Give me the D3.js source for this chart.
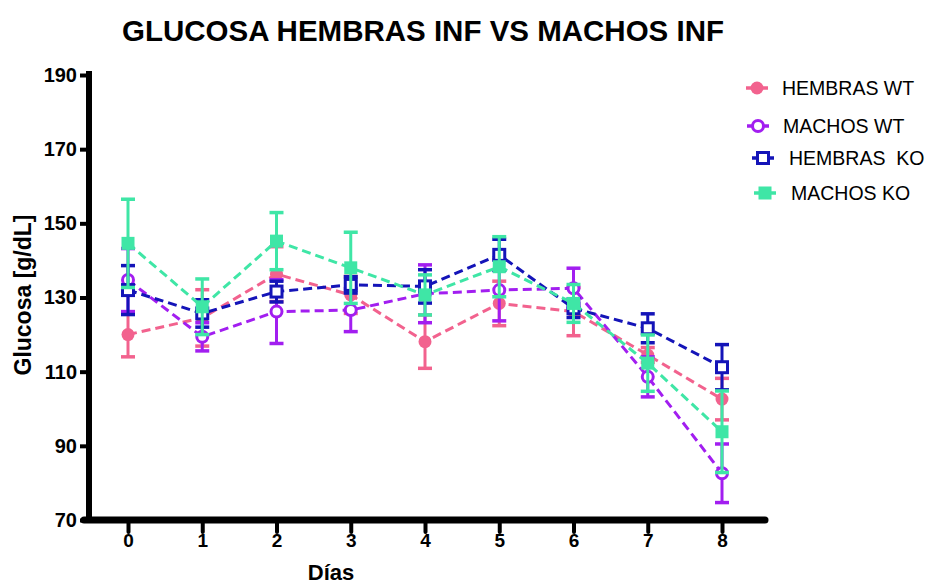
<!DOCTYPE html>
<html>
<head>
<meta charset="utf-8">
<script src="https://cdn.jsdelivr.net/npm/d3@7"></script>
<style>
  html, body { margin: 0; padding: 0; background: #ffffff; }
  svg { display: block; font-family: "Liberation Sans", Arial, sans-serif; }
</style>
</head>
<body>
<svg id="chart" width="927" height="587"></svg>
<script>
// Days of measurement
const days = [0, 1, 2, 3, 4, 5, 6, 7, 8];
const yTicks = [70, 90, 110, 130, 150, 170, 190];

// Glucose means and SEM per group
const hembrasWT     = [120.0, 124.5, 136.3, 130.7, 118.1, 128.4, 126.2, 114.5, 102.6];
const hembrasWTsem  = [6.0, 7.6, 7.4, 5.0, 7.2, 6.0, 6.5, 2.0, 5.6];
const machosWT      = [134.7, 119.4, 126.2, 126.6, 131.0, 132.0, 132.5, 108.6, 82.6];
const machosWTsem   = [8.5, 3.8, 8.6, 5.8, 7.8, 8.3, 5.4, 5.4, 7.9];
const hembrasKO     = [132.0, 125.7, 131.6, 133.4, 133.0, 141.5, 127.1, 121.7, 111.2];
const hembrasKOsem  = [6.6, 3.7, 2.8, 2.2, 4.5, 4.2, 2.5, 3.9, 6.1];
const machosKO      = [144.6, 127.5, 145.2, 138.0, 130.7, 138.3, 128.4, 112.3, 93.8];
const machosKOsem   = [11.9, 7.5, 7.7, 9.6, 5.4, 8.1, 5.1, 7.6, 11.0];

const seriesNames = ["HEMBRAS WT", "MACHOS WT", "HEMBRAS  KO", "MACHOS KO"];

const series = [
  { name: seriesNames[0], mean: hembrasWT, sem: hembrasWTsem, color: "#f2628e", shape: "circle", filled: true },
  { name: seriesNames[1], mean: machosWT,  sem: machosWTsem,  color: "#a21ef0", shape: "circle", filled: false },
  { name: seriesNames[2], mean: hembrasKO, sem: hembrasKOsem, color: "#1414b8", shape: "square", filled: false },
  { name: seriesNames[3], mean: machosKO,  sem: machosKOsem,  color: "#3fe6a6", shape: "square", filled: true }
];

const svg = d3.select("#chart");

const x = d3.scaleLinear().domain([0, 8]).range([128, 722]);
const y = d3.scaleLinear().domain([70, 190]).range([520, 75]);

// Title
svg.append("text")
  .attr("x", 423).attr("y", 41)
  .attr("text-anchor", "middle")
  .attr("font-weight", "bold")
  .attr("font-size", 29.5)
  .attr("fill", "#000")
  .text("GLUCOSA HEMBRAS INF VS MACHOS INF");

// Y axis
const yAxis = d3.axisLeft(y).tickValues(yTicks).tickSize(9).tickPadding(3).tickFormat(d3.format("d"));
const gy = svg.append("g").attr("transform", "translate(89,0)").call(yAxis);
gy.select(".domain").remove();
gy.selectAll(".tick line").attr("stroke", "#000").attr("stroke-width", 4);
gy.selectAll(".tick text").attr("font-size", 20).attr("font-weight", "bold")
  .attr("font-family", "Liberation Sans, Arial, sans-serif").attr("fill", "#000");
svg.append("line")
  .attr("x1", 89).attr("x2", 89).attr("y1", 71).attr("y2", 523)
  .attr("stroke", "#000").attr("stroke-width", 6);

// X axis
const xAxis = d3.axisBottom(x).tickValues(days).tickSize(12).tickPadding(2).tickFormat(d3.format("d"));
const gx = svg.append("g").attr("transform", "translate(0,520)").call(xAxis);
gx.select(".domain").remove();
gx.selectAll(".tick line").attr("stroke", "#000").attr("stroke-width", 4).attr("stroke-linecap", "round");
gx.selectAll(".tick text").attr("font-size", 19).attr("font-weight", "bold")
  .attr("font-family", "Liberation Sans, Arial, sans-serif").attr("fill", "#000");
svg.append("line")
  .attr("x1", 84).attr("x2", 765).attr("y1", 520).attr("y2", 520)
  .attr("stroke", "#000").attr("stroke-width", 7).attr("stroke-linecap", "round");

// Axis titles
svg.append("text")
  .attr("transform", "translate(31,295) rotate(-90)")
  .attr("text-anchor", "middle")
  .attr("font-weight", "bold").attr("font-size", 23)
  .text("Glucosa [g/dL]");
svg.append("text")
  .attr("x", 331).attr("y", 580)
  .attr("text-anchor", "middle")
  .attr("font-weight", "bold").attr("font-size", 22)
  .text("Días");

// Marker drawing helper
function drawMarker(g, s, cx, cy) {
  if (s.shape === "circle") {
    g.append("circle")
      .attr("cx", cx).attr("cy", cy).attr("r", s.filled ? 6.5 : 5.5)
      .attr("fill", s.filled ? s.color : "#fff")
      .attr("stroke", s.color).attr("stroke-width", s.filled ? 0 : 3);
  } else {
    const h = s.filled ? 6.5 : 5.5;
    g.append("rect")
      .attr("x", cx - h).attr("y", cy - h).attr("width", 2 * h).attr("height", 2 * h)
      .attr("fill", s.filled ? s.color : "#fff")
      .attr("stroke", s.color).attr("stroke-width", s.filled ? 0 : 3);
  }
}

const line = d3.line().x((d, i) => x(days[i])).y(d => y(d));

series.forEach(s => {
  const g = svg.append("g");
  // error bars
  days.forEach((d, i) => {
    const cx = x(d), hi = y(s.mean[i] + s.sem[i]), lo = y(s.mean[i] - s.sem[i]);
    g.append("line").attr("x1", cx).attr("x2", cx).attr("y1", hi).attr("y2", lo)
      .attr("stroke", s.color).attr("stroke-width", 3);
    [hi, lo].forEach(yy => {
      g.append("line").attr("x1", cx - 7).attr("x2", cx + 7).attr("y1", yy).attr("y2", yy)
        .attr("stroke", s.color).attr("stroke-width", 3.5);
    });
  });
  // dashed connecting line
  g.append("path")
    .attr("d", line(s.mean))
    .attr("fill", "none")
    .attr("stroke", s.color).attr("stroke-width", 3)
    .attr("stroke-dasharray", "9,5");
  // markers
  days.forEach((d, i) => drawMarker(g, s, x(d), y(s.mean[i])));
});

// Legend
const legendPos = [
  { sx: 757, sy: 88,  tx: 782, ty: 95 },
  { sx: 758, sy: 126, tx: 783, ty: 133 },
  { sx: 763, sy: 158, tx: 789, ty: 165 },
  { sx: 765, sy: 193, tx: 791, ty: 200 }
];
series.forEach((s, i) => {
  const p = legendPos[i];
  const g = svg.append("g");
  g.append("line").attr("x1", p.sx - 11).attr("x2", p.sx + 11).attr("y1", p.sy).attr("y2", p.sy)
    .attr("stroke", s.color).attr("stroke-width", 3.5);
  drawMarker(g, s, p.sx, p.sy);
  g.append("text").attr("x", p.tx).attr("y", p.ty)
    .attr("font-size", 19.5).attr("fill", "#000")
    .style("white-space", "pre")
    .text(s.name);
});
</script>
</body>
</html>
